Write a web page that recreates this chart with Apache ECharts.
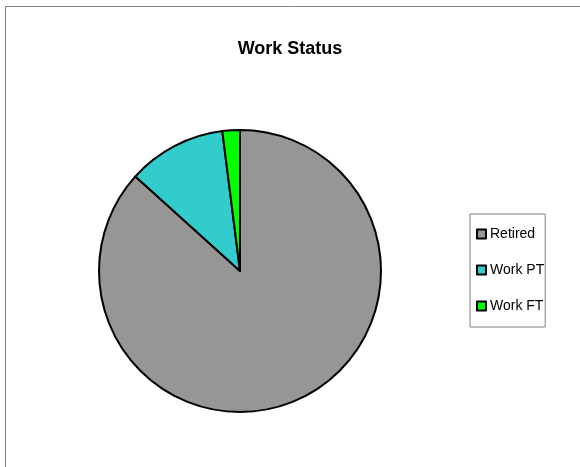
<!DOCTYPE html>
<html><head><meta charset="utf-8">
<script src="https://cdn.jsdelivr.net/npm/echarts@6/dist/echarts.min.js"></script>
<style>html,body{margin:0;padding:0;background:#fff}#c{width:580px;height:467px}</style>
</head><body><div id="c"></div>
<script>
const categories = ["Retired", "Work PT", "Work FT"];
const values = [86.7, 11.3, 2.0];
const colors = ["#969696", "#33CCCC", "#00FF00"];
const titleText = "Work Status";

const chart = echarts.init(document.getElementById('c'), null, {renderer: 'canvas'});
chart.setOption({
  animation: false,
  backgroundColor: '#fff',
  graphic: [{
    type: 'rect', shape: {x: 5.5, y: 6.5, width: 700, height: 700},
    style: {fill: 'none', stroke: '#808080', lineWidth: 1}, silent: true, z: -1
  }],
  title: {
    text: titleText, left: 'center', top: 35,
    textStyle: {fontFamily: 'Liberation Sans', fontWeight: 'bold', fontSize: 18, color: '#000'}
  },
  legend: {
    orient: 'vertical', left: 470, top: 214,
    padding: [13, 1, 14, 6], itemGap: 22,
    itemWidth: 9, itemHeight: 9, itemStyle: {borderColor: '#000', borderWidth: 2},
    borderColor: '#808080', borderWidth: 1, backgroundColor: '#fff',
    textStyle: {fontFamily: 'Liberation Sans', fontSize: 14, color: '#000', padding: [0, 0, 0, -1]},
    data: categories.map(n => ({name: n, icon: 'rect'}))
  },
  series: [{
    type: 'pie', center: [240, 271], radius: [0, 141],
    startAngle: 90, clockwise: true,
    label: {show: false}, labelLine: {show: false},
    emphasis: {disabled: true},
    itemStyle: {borderColor: '#000', borderWidth: 2},
    data: categories.map((n, i) => ({name: n, value: values[i], itemStyle: {color: colors[i]}}))
  }]
});
</script></body></html>
